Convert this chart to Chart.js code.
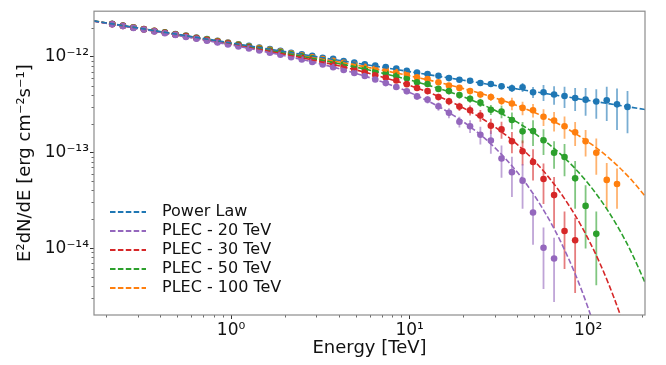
<!DOCTYPE html>
<html>
<head>
<meta charset="utf-8">
<title>E2dN/dE spectrum</title>
<script src="https://cdn.jsdelivr.net/npm/chart.js@4.4.1/dist/chart.umd.min.js"></script>
<style>
  html, body { margin: 0; padding: 0; background: #fff; }
</style>
</head>
<body>
<canvas id="spectrum" width="666" height="365"></canvas>
<script>
/* Spectre E^2 dN/dE - loi de puissance vs PLEC */

// valeurs de flux en unités de 1e-12 erg cm-2 s-1
const FLUX_UNIT = 1e-12;

// centres des bins en énergie [TeV]
const energies = [
    0.216, 0.248, 0.284, 0.325, 0.372, 0.426, 0.488, 0.559, 0.640, 0.733,
    0.840, 0.961, 1.10, 1.26, 1.44, 1.65, 1.89, 2.17, 2.49, 2.85,
    3.26, 3.73, 4.27, 4.90, 5.61, 6.42, 7.35, 8.42, 9.64, 11.0,
    12.6, 14.5, 16.6, 19.0, 21.8, 24.9, 28.5, 32.7, 37.4, 42.9,
    49.1, 56.2, 64.4, 73.7, 84.5, 96.7, 111, 127, 145, 166
];

// points simulés (flux) et erreur relative de chaque point
const powerLawFlux = [
    2.21, 2.12, 2.03, 1.95, 1.87, 1.80, 1.73, 1.66, 1.59, 1.53,
    1.47, 1.41, 1.35, 1.30, 1.25, 1.20, 1.15, 1.10, 1.06, 1.02,
    0.977, 0.953, 0.901, 0.868, 0.834, 0.808, 0.782, 0.752, 0.711, 0.684,
    0.658, 0.633, 0.598, 0.575, 0.561, 0.532, 0.519, 0.492, 0.469, 0.480,
    0.426, 0.426, 0.403, 0.388, 0.370, 0.356, 0.341, 0.350, 0.318, 0.299
];
const powerLawErr = [
    0.02, 0.02, 0.02, 0.02, 0.02, 0.02, 0.02, 0.02, 0.02, 0.02,
    0.02, 0.02, 0.02, 0.02, 0.02, 0.02, 0.02, 0.02, 0.02, 0.02,
    0.02, 0.02, 0.025, 0.025, 0.025, 0.025, 0.03, 0.03, 0.03, 0.03,
    0.03, 0.035, 0.04, 0.045, 0.05, 0.055, 0.065, 0.075, 0.09, 0.11,
    0.13, 0.19, 0.22, 0.25, 0.27, 0.32, 0.34, 0.39, 0.46, 0.47
];

const plec20Flux = [
    2.18, 2.09, 2.00, 1.92, 1.84, 1.76, 1.69, 1.61, 1.54, 1.47,
    1.41, 1.34, 1.28, 1.22, 1.16, 1.10, 1.05, 0.990, 0.936, 0.883,
    0.830, 0.778, 0.728, 0.677, 0.628, 0.578, 0.530, 0.482, 0.436, 0.385,
    0.356, 0.303, 0.259, 0.209, 0.188, 0.153, 0.133, 0.0863, 0.0622, 0.0507,
    0.0236, 0.0101, 0.0078
];
const plec20Err = [
    0.02, 0.02, 0.02, 0.02, 0.02, 0.02, 0.02, 0.02, 0.02, 0.02,
    0.02, 0.02, 0.02, 0.02, 0.02, 0.02, 0.02, 0.02, 0.02, 0.02,
    0.025, 0.03, 0.035, 0.04, 0.045, 0.05, 0.055, 0.06, 0.07, 0.08,
    0.09, 0.10, 0.12, 0.13, 0.15, 0.21, 0.27, 0.37, 0.45, 0.49,
    0.54, 0.63, 0.65
];

const plec30Flux = [
    2.19, 2.10, 2.01, 1.93, 1.85, 1.78, 1.70, 1.63, 1.56, 1.49,
    1.43, 1.37, 1.31, 1.25, 1.19, 1.13, 1.08, 1.03, 0.976, 0.926,
    0.877, 0.828, 0.781, 0.735, 0.689, 0.644, 0.605, 0.565, 0.517, 0.471,
    0.437, 0.379, 0.342, 0.301, 0.276, 0.243, 0.190, 0.174, 0.131, 0.103,
    0.0793, 0.0527, 0.0358, 0.0151, 0.0121
];
const plec30Err = [
    0.02, 0.02, 0.02, 0.02, 0.02, 0.02, 0.02, 0.02, 0.02, 0.02,
    0.02, 0.02, 0.02, 0.02, 0.02, 0.02, 0.02, 0.02, 0.02, 0.02,
    0.025, 0.03, 0.03, 0.035, 0.04, 0.045, 0.05, 0.055, 0.06, 0.065,
    0.07, 0.08, 0.09, 0.10, 0.12, 0.14, 0.18, 0.20, 0.25, 0.29,
    0.36, 0.45, 0.55, 0.60, 0.72
];

const plec50Flux = [
    2.20, 2.11, 2.02, 1.94, 1.86, 1.79, 1.71, 1.64, 1.57, 1.51,
    1.44, 1.38, 1.33, 1.27, 1.21, 1.16, 1.11, 1.06, 1.01, 0.962,
    0.915, 0.871, 0.827, 0.784, 0.743, 0.701, 0.668, 0.632, 0.594, 0.541,
    0.519, 0.461, 0.437, 0.397, 0.364, 0.331, 0.279, 0.268, 0.218, 0.166,
    0.167, 0.134, 0.0991, 0.0895, 0.0536, 0.0276, 0.0141
];
const plec50Err = [
    0.02, 0.02, 0.02, 0.02, 0.02, 0.02, 0.02, 0.02, 0.02, 0.02,
    0.02, 0.02, 0.02, 0.02, 0.02, 0.02, 0.02, 0.02, 0.02, 0.02,
    0.02, 0.025, 0.025, 0.03, 0.03, 0.035, 0.04, 0.045, 0.05, 0.055,
    0.06, 0.065, 0.07, 0.08, 0.09, 0.10, 0.12, 0.15, 0.20, 0.25,
    0.30, 0.30, 0.32, 0.37, 0.52, 0.64, 0.71
];

const plec100Flux = [
    2.20, 2.11, 2.03, 1.95, 1.87, 1.79, 1.72, 1.65, 1.58, 1.52,
    1.46, 1.40, 1.34, 1.28, 1.23, 1.18, 1.13, 1.08, 1.03, 0.989,
    0.946, 0.904, 0.863, 0.824, 0.786, 0.747, 0.720, 0.690, 0.660, 0.608,
    0.584, 0.541, 0.499, 0.472, 0.437, 0.403, 0.379, 0.345, 0.324, 0.292,
    0.276, 0.236, 0.215, 0.188, 0.162, 0.131, 0.0991, 0.0516, 0.0468
];
const plec100Err = [
    0.02, 0.02, 0.02, 0.02, 0.02, 0.02, 0.02, 0.02, 0.02, 0.02,
    0.02, 0.02, 0.02, 0.02, 0.02, 0.02, 0.02, 0.02, 0.02, 0.02,
    0.02, 0.02, 0.025, 0.025, 0.03, 0.03, 0.035, 0.04, 0.04, 0.045,
    0.05, 0.055, 0.06, 0.07, 0.075, 0.08, 0.09, 0.10, 0.15, 0.16,
    0.16, 0.20, 0.23, 0.26, 0.28, 0.31, 0.41, 0.50, 0.45
];

// courbes des modèles (tirets)
const curveEnergies = [0.17, 0.3, 0.5, 1, 2, 3, 5, 7, 10, 15, 20, 25, 30, 40, 50, 60, 70, 85, 100, 115, 130, 150, 175, 210];
const powerLawCurve = [2.371, 2.000, 1.715, 1.393, 1.131, 1.002, 0.8594, 0.7770, 0.6982, 0.6182, 0.5671, 0.5304,
    0.5022, 0.4606, 0.4309, 0.4078, 0.3896, 0.3675, 0.3499, 0.3355, 0.3234, 0.3098, 0.2958, 0.2800];
const plec100Curve = [2.367, 1.994, 1.706, 1.379, 1.109, 0.9724, 0.8175, 0.7245, 0.6318, 0.5321, 0.4643, 0.4131,
    0.3720, 0.3088, 0.2614, 0.2238, 0.1935, 0.1571, 0.1287, 0.1062, 0.0881, 0.0691, 0.0514, 0.0343];
const plec50Curve = [2.363, 1.988, 1.698, 1.365, 1.087, 0.9436, 0.7776, 0.6755, 0.5716, 0.4580, 0.3801, 0.3217,
    0.2756, 0.2070, 0.1585, 0.1228, 0.0961, 0.0671, 0.04736, 0.03364, 0.02402, 0.01543, 0.00893, 0.00420];
const plec30Curve = [2.358, 1.980, 1.687, 1.347, 1.058, 0.9067, 0.7275, 0.6153, 0.5003, 0.3750, 0.2912, 0.2305,
    0.1847, 0.1214, 0.08139, 0.05519, 0.03778, 0.02161, 0.01248, 0.00726, 0.00424, 0.00209, 0.00087];
const plec20Curve = [2.351, 1.970, 1.673, 1.325, 1.023, 0.8624, 0.6693, 0.5475, 0.4235, 0.2920, 0.2086, 0.1520,
    0.1121, 0.06234, 0.03537, 0.02030, 0.01177, 0.00524, 0.00236, 0.00107];

// axes
const xRange = [0.1708, 208];
const yRange = [2.0e-15, 2.99e-12];
const xMajorTicks = [1, 10, 100];
const xTickLabels = ['10⁰', '10¹', '10²'];
const yMajorTicks = [1e-14, 1e-13, 1e-12];
const yTickLabels = ['10⁻¹⁴', '10⁻¹³', '10⁻¹²'];

/* ---------- séries (ordre de la légende) ---------- */
const series = [
    { label: 'Power Law',       color: '#1f77b4', flux: powerLawFlux, err: powerLawErr, curve: powerLawCurve },
    { label: 'PLEC - 20 TeV',   color: '#9467bd', flux: plec20Flux,   err: plec20Err,   curve: plec20Curve },
    { label: 'PLEC - 30 TeV',   color: '#d62728', flux: plec30Flux,   err: plec30Err,   curve: plec30Curve },
    { label: 'PLEC - 50 TeV',   color: '#2ca02c', flux: plec50Flux,   err: plec50Err,   curve: plec50Curve },
    { label: 'PLEC - 100 TeV',  color: '#ff7f0e', flux: plec100Flux,  err: plec100Err,  curve: plec100Curve }
];
// ordre d'empilement des points : le violet au-dessus, le bleu en dessous
const pointStack = [1, 2, 3, 4, 0];

function withAlpha(hex, a) {
    const n = parseInt(hex.slice(1), 16);
    return `rgba(${(n >> 16) & 255}, ${(n >> 8) & 255}, ${n & 255}, ${a})`;
}

const DASH = [5.5, 2.4];
const datasets = [];

// courbes en premier = dessinées au-dessus
series.forEach(s => {
    datasets.push({
        label: s.label,
        data: s.curve.map((v, k) => ({ x: curveEnergies[k], y: v * FLUX_UNIT })),
        showLine: true,
        borderColor: s.color,
        borderWidth: 1.6,
        borderDash: DASH,
        pointRadius: 0,
        fill: false,
        cubicInterpolationMode: 'monotone'
    });
});

pointStack.forEach(k => {
    const s = series[k];
    datasets.push({
        label: s.label + ' points',
        data: s.flux.map((v, i) => ({ x: energies[i], y: v * FLUX_UNIT })),
        relErr: s.err,
        errColor: withAlpha(s.color, 0.6),
        showLine: false,
        pointRadius: 3.3,
        pointBorderWidth: 0,
        pointBackgroundColor: s.color,
        pointBorderColor: s.color
    });
});

/* ---------- plugins ---------- */
const errorBars = {
    id: 'errorBars',
    beforeDatasetsDraw(chart) {
        const { ctx, chartArea: ca, scales: { x, y } } = chart;
        ctx.save();
        ctx.beginPath();
        ctx.rect(ca.left, ca.top, ca.right - ca.left, ca.bottom - ca.top);
        ctx.clip();
        ctx.lineWidth = 1.8;
        // même ordre que les points : le bleu d'abord
        chart.data.datasets.slice().reverse().forEach(ds => {
            if (!ds.relErr) return;
            ctx.strokeStyle = ds.errColor;
            ds.data.forEach((p, i) => {
                const sigma = ds.relErr[i] * p.y;
                const px = x.getPixelForValue(p.x);
                const lo = Math.max(p.y - sigma, yRange[0] * 0.01);
                ctx.beginPath();
                ctx.moveTo(px, y.getPixelForValue(p.y + sigma));
                ctx.lineTo(px, y.getPixelForValue(lo));
                ctx.stroke();
            });
        });
        ctx.restore();
    }
};

const frameAndLegend = {
    id: 'frameAndLegend',
    afterDraw(chart) {
        const { ctx, chartArea: ca, scales: { x, y } } = chart;
        ctx.save();

        // petites graduations (2..9 x 10^n)
        ctx.strokeStyle = '#444';
        ctx.lineWidth = 0.8;
        for (let d = -2; d <= 3; d++) {
            for (let m = 2; m <= 9; m++) {
                const v = m * Math.pow(10, d);
                if (v > xRange[0] && v < xRange[1]) {
                    const px = Math.round(x.getPixelForValue(v)) + 0.5;
                    ctx.beginPath(); ctx.moveTo(px, ca.bottom); ctx.lineTo(px, ca.bottom + 2.5); ctx.stroke();
                }
            }
        }
        for (let d = -16; d <= -11; d++) {
            for (let m = 2; m <= 9; m++) {
                const v = m * Math.pow(10, d);
                if (v > yRange[0] && v < yRange[1]) {
                    const py = Math.round(y.getPixelForValue(v)) + 0.5;
                    ctx.beginPath(); ctx.moveTo(ca.left, py); ctx.lineTo(ca.left - 2.5, py); ctx.stroke();
                }
            }
        }

        // cadre
        ctx.strokeStyle = '#8c8c8c';
        ctx.lineWidth = 1.2;
        ctx.strokeRect(ca.left, ca.top, ca.right - ca.left, ca.bottom - ca.top);

        // légende en bas à gauche
        ctx.font = '16px "DejaVu Sans"';
        ctx.textBaseline = 'middle';
        ctx.textAlign = 'left';
        series.forEach((s, k) => {
            const yRow = ca.bottom - 27 - 19 * (series.length - 1 - k);
            ctx.strokeStyle = s.color;
            ctx.lineWidth = 1.8;
            ctx.setLineDash(DASH);
            ctx.beginPath();
            ctx.moveTo(ca.left + 16, yRow);
            ctx.lineTo(ca.left + 52, yRow);
            ctx.stroke();
            ctx.setLineDash([]);
            ctx.fillStyle = '#111';
            ctx.fillText(s.label, ca.left + 68, yRow);
        });
        ctx.restore();
    }
};

/* ---------- graphique ---------- */
Chart.defaults.font.family = '"DejaVu Sans", sans-serif';
Chart.defaults.color = '#111';

new Chart(document.getElementById('spectrum').getContext('2d'), {
    type: 'scatter',
    data: { datasets },
    options: {
        responsive: false,
        animation: false,
        layout: { padding: { top: 6, right: 21, left: 0, bottom: 0 } },
        plugins: { legend: { display: false }, tooltip: { enabled: false } },
        scales: {
            x: {
                type: 'logarithmic',
                min: xRange[0],
                max: xRange[1],
                afterBuildTicks: scale => { scale.ticks = xMajorTicks.map(v => ({ value: v })); },
                afterFit: scale => { scale.height = 50; },
                ticks: {
                    autoSkip: false,
                    maxRotation: 0,
                    padding: 1,
                    font: { size: 17 },
                    callback: v => { const k = xMajorTicks.indexOf(v); return k >= 0 ? xTickLabels[k] : ''; }
                },
                grid: { drawOnChartArea: false, drawTicks: true, tickLength: 4, tickColor: '#333', tickWidth: 1 },
                border: { display: false },
                title: { display: true, text: 'Energy [TeV]', font: { size: 18 }, padding: { top: 0, bottom: 6 } }
            },
            y: {
                type: 'logarithmic',
                min: yRange[0],
                max: yRange[1],
                afterBuildTicks: scale => { scale.ticks = yMajorTicks.map(v => ({ value: v })); },
                afterFit: scale => { scale.width = 94; },
                ticks: {
                    autoSkip: false,
                    padding: 1,
                    font: { size: 17 },
                    callback: v => { const k = yMajorTicks.indexOf(v); return k >= 0 ? yTickLabels[k] : ''; }
                },
                grid: { drawOnChartArea: false, drawTicks: true, tickLength: 4, tickColor: '#333', tickWidth: 1 },
                border: { display: false },
                title: { display: true, text: 'E²dN/dE [erg cm⁻²s⁻¹]', font: { size: 18 }, padding: { top: 15, bottom: 0 } }
            }
        }
    },
    plugins: [errorBars, frameAndLegend]
});
</script>
</body>
</html>
